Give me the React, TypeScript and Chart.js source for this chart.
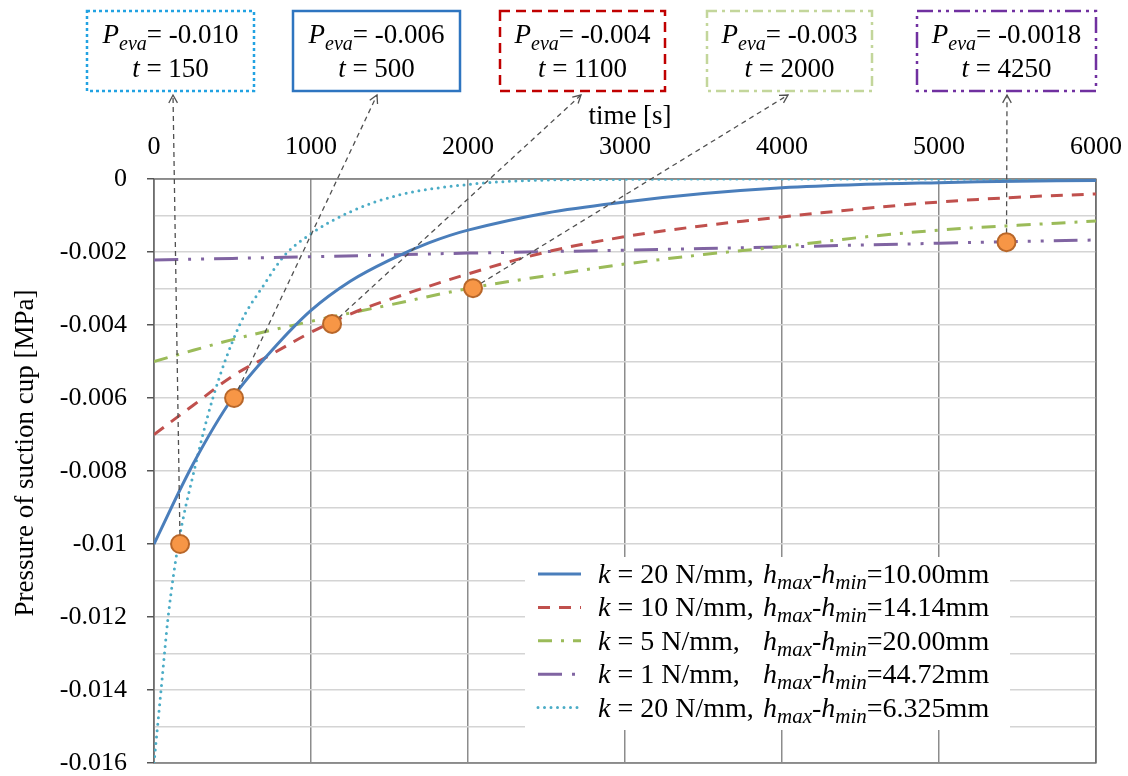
import React, { useEffect, useRef } from 'react';
import { Chart, registerables } from 'chart.js';
Chart.register(...registerables);

// ---------- data ----------
const xTickLabels = ['0', '1000', '2000', '3000', '4000', '5000', '6000'];
const yTickLabels = ['0', '-0.002', '-0.004', '-0.006', '-0.008', '-0.01', '-0.012', '-0.014', '-0.016'];

const tK20a = [0, 250, 500, 750, 1000, 1250, 1500, 1750, 2000, 2500, 3000, 3500, 4000, 4500, 5000, 5500, 6000];
const pK20a = [-0.01, -0.0078, -0.006, -0.0047, -0.0036, -0.0028, -0.00222, -0.00175, -0.0014, -0.00093, -0.00063, -0.0004, -0.00024, -0.00015, -0.0001, -0.00006, -0.00004];

const tK10 = [0, 250, 500, 750, 1000, 1250, 1500, 2000, 2500, 3000, 3500, 4000, 4500, 5000, 5500, 6000];
const pK10 = [-0.007, -0.0062, -0.0054, -0.0048, -0.0042, -0.0037, -0.0033, -0.0026, -0.002, -0.00158, -0.00128, -0.00104, -0.00082, -0.00063, -0.0005, -0.00041];

const tK5 = [0, 500, 1000, 1500, 2000, 2500, 3000, 3500, 4000, 4500, 5000, 5500, 6000];
const pK5 = [-0.005, -0.0044, -0.0039, -0.00345, -0.003, -0.00265, -0.00233, -0.00207, -0.00185, -0.0016, -0.0014, -0.00127, -0.00115];

const tK1 = [0, 1000, 2000, 3000, 4000, 5000, 6000];
const pK1 = [-0.00222, -0.00213, -0.00203, -0.00195, -0.00186, -0.00176, -0.00167];

const tK20b = [0, 45, 90, 155, 255, 375, 545, 700, 830, 1000, 1250, 1550, 2000, 2400, 3000, 4000, 6000];
const pK20b = [-0.016, -0.014, -0.012, -0.01, -0.008, -0.006, -0.004, -0.0029, -0.0021, -0.0015, -0.0009, -0.00045, -0.00015, -0.00004, -0.00001, 0, 0];

const markerT = [166, 510, 1134, 2032, 5430];
const markerP = [-0.01, -0.006, -0.00397, -0.00299, -0.00173];

const boxPeva = ['-0.010', '-0.006', '-0.004', '-0.003', '-0.0018'];
const boxT = ['150', '500', '1100', '2000', '4250'];

const legendK = ['20', '10', '5', '1', '20'];
const legendH = ['10.00', '14.14', '20.00', '44.72', '6.325'];

// ---------- styles / layout ----------
const FONT = '"Liberation Serif", "Times New Roman", serif';
const seriesColors = ['#4A7EBB', '#C0504D', '#9BBB59', '#8064A2', '#4BACC6'];
const seriesDash: number[][] = [[], [12, 9], [14, 9, 3, 9], [24, 10, 3, 10, 3, 10], [0, 6.5]];
const seriesCap: CanvasLineCap[] = ['butt', 'butt', 'butt', 'butt', 'round'];

const boxRects = [
  [87, 11, 254, 91],
  [293, 11, 460, 91],
  [500, 11, 665, 91],
  [707, 11, 872, 91],
  [917, 11, 1096, 91],
];
const boxColors = ['#22A2E2', '#2E75C0', '#C00000', '#C3D69B', '#7030A0'];
const boxDash: number[][] = [[3, 3], [], [10, 6], [10, 5, 3, 5], [16, 5, 3, 5, 3, 5]];
const arrowEnds = [[173, 95], [377, 95], [581, 95], [788, 95], [1007, 95]];

type Part = { s: string; it?: boolean; size: number; dy?: number };

function setFont(ctx: CanvasRenderingContext2D, p: Part) {
  ctx.font = `${p.it ? 'italic ' : ''}${p.size}px ${FONT}`;
}
function drawRich(ctx: CanvasRenderingContext2D, parts: Part[], x: number, y: number, center: boolean) {
  let w = 0;
  for (const p of parts) { setFont(ctx, p); w += ctx.measureText(p.s).width; }
  let cx = center ? x - w / 2 : x;
  ctx.textAlign = 'left';
  ctx.textBaseline = 'alphabetic';
  for (const p of parts) {
    setFont(ctx, p);
    ctx.fillText(p.s, cx, y + (p.dy || 0));
    cx += ctx.measureText(p.s).width;
  }
}

const overlay = {
  id: 'overlay',
  beforeDatasetsDraw(chart: any) {
    const { ctx, chartArea: a } = chart;
    ctx.save();
    ctx.strokeStyle = '#5a5a5a';
    ctx.lineWidth = 1.2;
    ctx.strokeRect(a.left, a.top, a.right - a.left, a.bottom - a.top);
    ctx.restore();
  },
  beforeDatasetDraw(chart: any, args: any) {
    if (args.index !== 0) return;
    const ctx = chart.ctx;
    const xs = chart.scales.x, ys = chart.scales.y;
    ctx.save();
    ctx.strokeStyle = '#505050';
    ctx.lineWidth = 1.3;
    for (let i = 0; i < markerT.length; i++) {
      const x0 = xs.getPixelForValue(markerT[i]);
      const y0 = ys.getPixelForValue(markerP[i]);
      const [x1, y1] = arrowEnds[i];
      ctx.setLineDash([5, 4]);
      ctx.beginPath();
      ctx.moveTo(x0, y0);
      ctx.lineTo(x1, y1);
      ctx.stroke();
      const ang = Math.atan2(y1 - y0, x1 - x0);
      ctx.setLineDash([]);
      ctx.beginPath();
      const L = 9, sp = 0.5;
      ctx.moveTo(x1 - L * Math.cos(ang - sp), y1 - L * Math.sin(ang - sp));
      ctx.lineTo(x1, y1);
      ctx.lineTo(x1 - L * Math.cos(ang + sp), y1 - L * Math.sin(ang + sp));
      ctx.stroke();
    }
    ctx.restore();
  },
  afterDatasetsDraw(chart: any) {
    const ctx = chart.ctx;
    ctx.save();
    ctx.fillStyle = '#ffffff';
    ctx.fillRect(525, 557, 485, 173);
    for (let i = 0; i < 5; i++) {
      const base = 583 + i * 33.4;
      const ly = base - 9;
      ctx.strokeStyle = seriesColors[i];
      ctx.lineWidth = 3;
      ctx.lineCap = seriesCap[i];
      ctx.setLineDash(seriesDash[i]);
      ctx.beginPath();
      ctx.moveTo(538, ly);
      ctx.lineTo(581, ly);
      ctx.stroke();
      ctx.setLineDash([]);
      ctx.lineCap = 'butt';
      ctx.fillStyle = '#000';
      drawRich(ctx, [
        { s: 'k', it: true, size: 28 },
        { s: ` = ${legendK[i]} N/mm,`, size: 28 },
      ], 598, base, false);
      drawRich(ctx, [
        { s: 'h', it: true, size: 28 },
        { s: 'max', it: true, size: 21, dy: 6 },
        { s: '-', size: 28 },
        { s: 'h', it: true, size: 28 },
        { s: 'min', it: true, size: 21, dy: 6 },
        { s: `=${legendH[i]}mm`, size: 28 },
      ], 763, base, false);
    }
    ctx.restore();
  },
  afterDraw(chart: any) {
    const ctx = chart.ctx;
    ctx.save();
    for (let i = 0; i < boxRects.length; i++) {
      const [l, t, r, b] = boxRects[i];
      ctx.fillStyle = '#fff';
      ctx.fillRect(l, t, r - l, b - t);
      ctx.strokeStyle = boxColors[i];
      ctx.lineWidth = 2.5;
      ctx.setLineDash(boxDash[i]);
      ctx.strokeRect(l, t, r - l, b - t);
      ctx.setLineDash([]);
      ctx.fillStyle = '#000';
      const cx = (l + r) / 2;
      drawRich(ctx, [
        { s: 'P', it: true, size: 27 },
        { s: 'eva', it: true, size: 20, dy: 7 },
        { s: `= ${boxPeva[i]}`, size: 27 },
      ], cx, t + 32, true);
      drawRich(ctx, [
        { s: 't', it: true, size: 27 },
        { s: ` = ${boxT[i]}`, size: 27 },
      ], cx, t + 66, true);
    }
    ctx.fillStyle = '#000';
    ctx.font = `27px ${FONT}`;
    ctx.textAlign = 'center';
    ctx.textBaseline = 'alphabetic';
    ctx.fillText('time [s]', 630, 124);
    ctx.translate(33, 453);
    ctx.rotate(-Math.PI / 2);
    ctx.fillText('Pressure of suction cup [MPa]', 0, 0);
    ctx.restore();
  },
};

export default function App() {
  const ref = useRef<HTMLCanvasElement>(null);
  useEffect(() => {
    if (!ref.current) return;
    const series = [
      [tK20a, pK20a], [tK10, pK10], [tK5, pK5], [tK1, pK1], [tK20b, pK20b],
    ];
    const lineSets = series.map(([t, p], i) => ({
      type: 'line' as const,
      data: t.map((x, j) => ({ x, y: p[j] })),
      borderColor: seriesColors[i],
      borderWidth: 3,
      borderDash: seriesDash[i],
      borderCapStyle: seriesCap[i],
      pointRadius: 0,
      fill: false,
      tension: 0.35,
      cubicInterpolationMode: (i === 4 ? 'monotone' : 'default') as any,
    }));
    const zeroPad = (s: any) => {
      s.paddingTop = 0; s.paddingBottom = 0; s.paddingLeft = 0; s.paddingRight = 0;
    };
    const chart = new Chart(ref.current, {
      type: 'line',
      data: {
        datasets: [
          {
            type: 'line',
            data: markerT.map((x, j) => ({ x, y: markerP[j] })),
            showLine: false,
            pointRadius: 9,
            pointBackgroundColor: '#F79646',
            pointBorderColor: '#B8672A',
            pointBorderWidth: 2,
            clip: false,
          } as any,
          ...lineSets,
        ],
      },
      options: {
        animation: false,
        responsive: false,
        events: [],
        layout: { padding: { left: 0, top: 0, right: 32, bottom: 13 } },
        plugins: { legend: { display: false }, tooltip: { enabled: false } },
        scales: {
          x: {
            type: 'linear',
            position: 'top',
            min: 0,
            max: 6000,
            afterFit: (s: any) => { s.height = 179; zeroPad(s); },
            ticks: {
              stepSize: 1000,
              autoSkip: false,
              maxRotation: 0,
              padding: 16,
              color: '#000',
              font: { family: FONT, size: 26 },
              callback: (v: any) => xTickLabels[Math.round(Number(v) / 1000)] ?? '',
            },
            grid: { color: '#8c8c8c', lineWidth: 1.5, drawTicks: false },
            border: { display: false },
          },
          y: {
            type: 'linear',
            min: -0.016,
            max: 0,
            afterFit: (s: any) => { s.width = 154; zeroPad(s); },
            ticks: {
              stepSize: 0.001,
              autoSkip: false,
              padding: 20,
              color: '#000',
              font: { family: FONT, size: 26 },
              callback: (v: any) => {
                const k = Math.round(-Number(v) * 1000);
                return k % 2 === 0 ? yTickLabels[k / 2] : '';
              },
            },
            grid: {
              color: '#d4d4d4',
              lineWidth: 1.5,
              tickLength: 7,
              tickWidth: 1.5,
              tickColor: (c: any) => {
                const v = c.tick ? c.tick.value : 1;
                return Math.round(-v * 1000) % 2 === 0 ? '#555' : 'rgba(0,0,0,0)';
              },
            },
            border: { display: false },
          },
        },
      },
      plugins: [overlay],
    });
    return () => chart.destroy();
  }, []);
  return (
    <div style={{ position: 'absolute', left: 0, top: 0, width: 1128, height: 776, background: '#fff' }}>
      <canvas ref={ref} width={1128} height={776} style={{ display: 'block' }} />
    </div>
  );
}
